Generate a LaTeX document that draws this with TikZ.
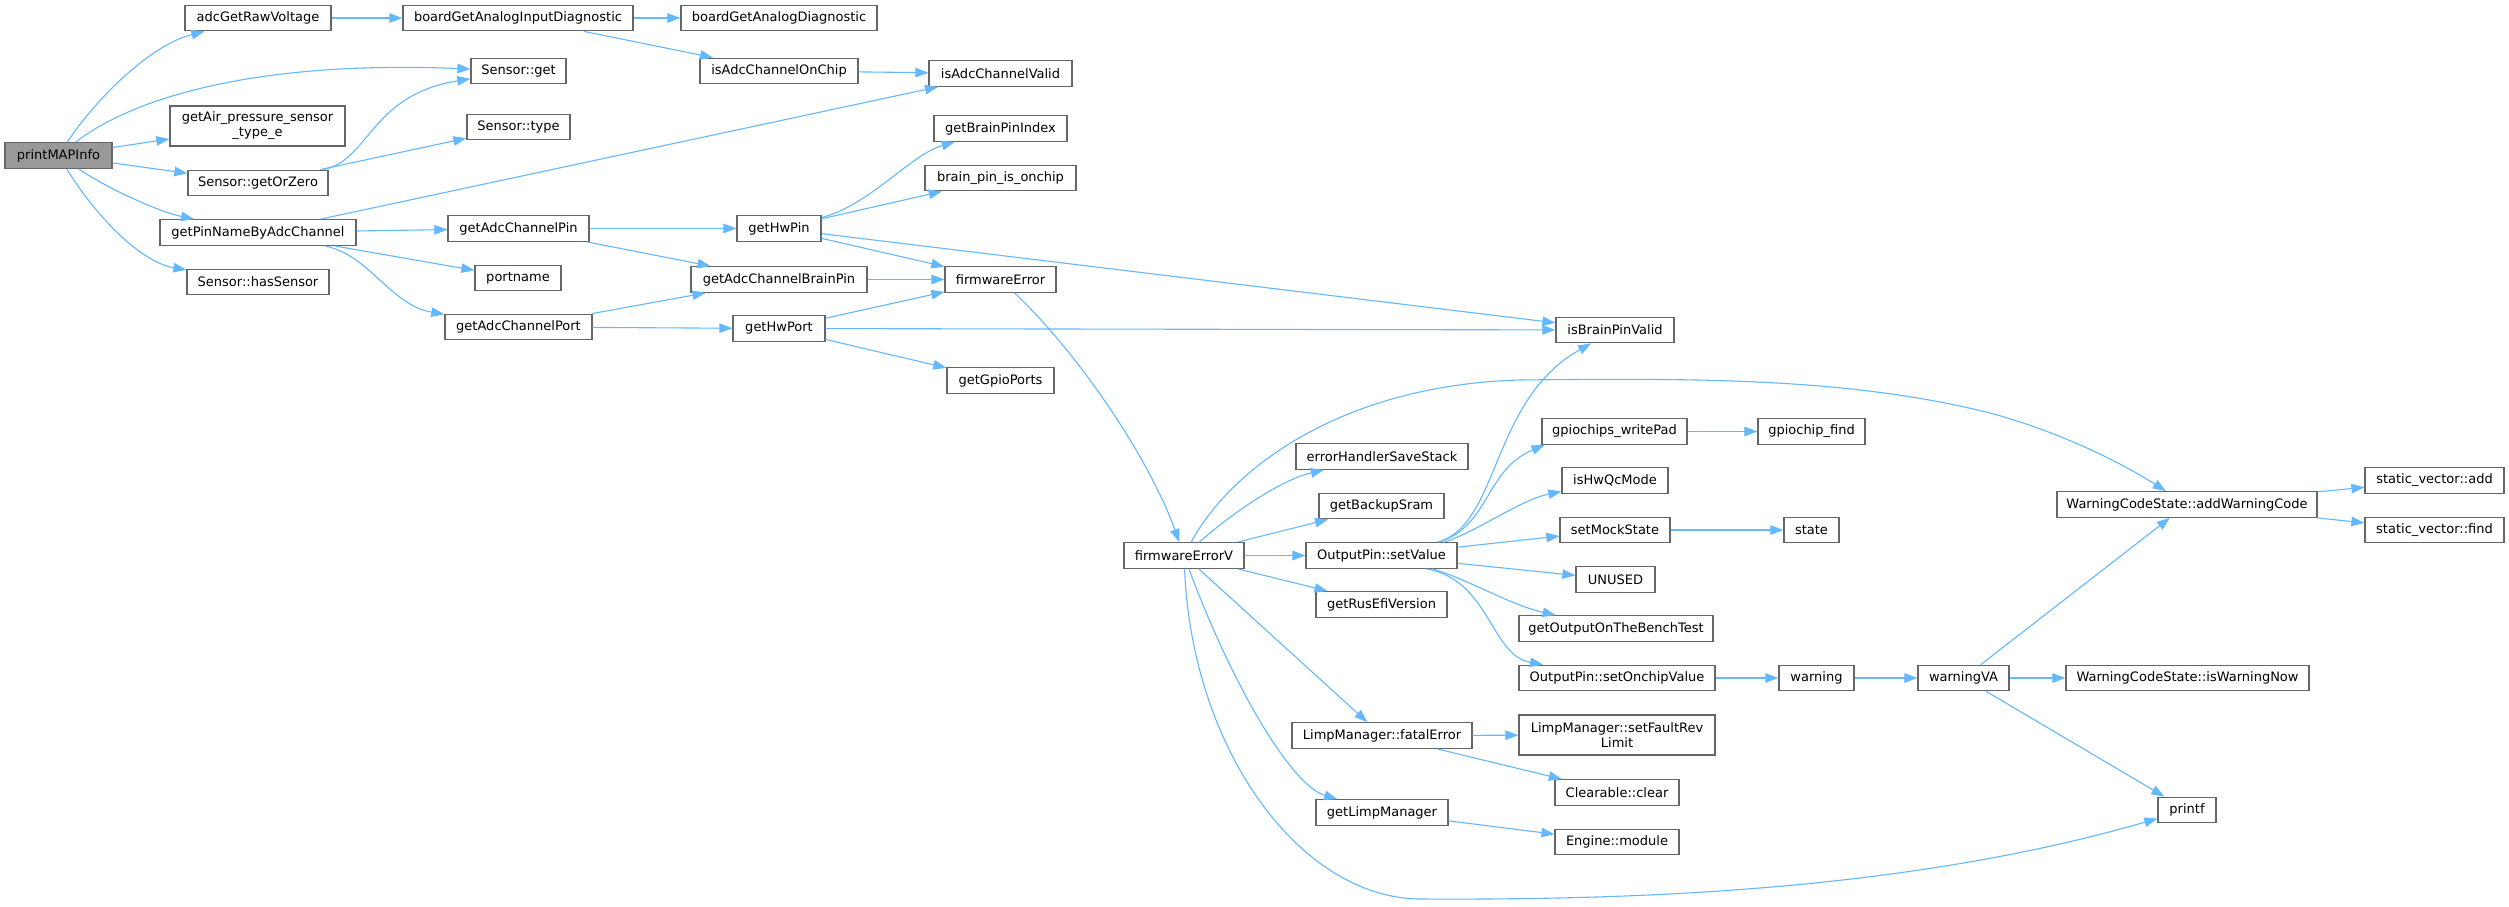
\documentclass[tikz,border=0pt]{standalone}
\usepackage{fontspec}
\setmainfont{DejaVu Sans}
\usetikzlibrary{arrows.meta}
\definecolor{edgec}{HTML}{63B8FF}
\definecolor{boxc}{HTML}{666666}
\definecolor{rootc}{HTML}{999999}
\begin{document}
\begin{tikzpicture}[x=1pt,y=-1pt,
  box/.style={draw=boxc, line width=1.3pt, fill=white, rectangle, inner sep=0pt,
    minimum height=25.5pt, font=\fontsize{13pt}{15pt}\selectfont, text=black, align=center},
  root/.style={box, fill=rootc},
  tall/.style={box, minimum height=40pt},
  call/.style={draw=edgec, line width=1.1pt, -{Triangle[length=13pt,width=9.5pt]}}]
\fill[white] (0,0) rectangle (2509,906);
\useasboundingbox (0,0) rectangle (2509,906);

% nodes
\node[root, minimum width=107pt] (pmi) at (58.5,155.5) {printMAPInfo};
\node[box, minimum width=146pt] (adc) at (258,18) {adcGetRawVoltage};
\node[box, minimum width=230pt] (bgaid) at (518,18) {boardGetAnalogInputDiagnostic};
\node[box, minimum width=196pt] (bgad) at (779,18) {boardGetAnalogDiagnostic};
\node[box, minimum width=95pt] (sget) at (518.5,71) {Sensor::get};
\node[box, minimum width=158pt] (iacoc) at (779,71) {isAdcChannelOnChip};
\node[box, minimum width=143pt] (iacv) at (1000.5,73.5) {isAdcChannelValid};
\node[tall, minimum width=175pt] (gap) at (257.5,126) {getAir\_pressure\_sensor\\\_type\_e};
\node[box, minimum width=103pt] (stype) at (518.5,127) {Sensor::type};
\node[box, minimum width=133pt] (bpi) at (1000.5,128.5) {getBrainPinIndex};
\node[box, minimum width=140pt] (sgoz) at (258,183) {Sensor::getOrZero};
\node[box, minimum width=151pt] (bpoc) at (1000.5,178) {brain\_pin\_is\_onchip};
\node[box, minimum width=196pt] (gpn) at (258,232.5) {getPinNameByAdcChannel};
\node[box, minimum width=141pt] (gacp) at (518.5,228.5) {getAdcChannelPin};
\node[box, minimum width=84pt] (ghp) at (779,228.5) {getHwPin};
\node[box, minimum width=86pt] (pn) at (518,278) {portname};
\node[box, minimum width=176pt] (gacbp) at (779,279.5) {getAdcChannelBrainPin};
\node[box, minimum width=111pt] (fe) at (1000.5,279.5) {firmwareError};
\node[box, minimum width=142pt] (shs) at (258,282) {Sensor::hasSensor};
\node[box, minimum width=147pt] (gacport) at (518.5,327) {getAdcChannelPort};
\node[box, minimum width=92pt] (ghport) at (779,328.5) {getHwPort};
\node[box, minimum width=118pt] (ibp) at (1615,330) {isBrainPinValid};
\node[box, minimum width=107pt] (ggp) at (1000.5,380.5) {getGpioPorts};
\node[box, minimum width=145pt] (gwp) at (1614.5,431.5) {gpiochips\_writePad};
\node[box, minimum width=107pt] (gcf) at (1811.5,431.5) {gpiochip\_find};
\node[box, minimum width=172pt] (ehss) at (1382,456.5) {errorHandlerSaveStack};
\node[box, minimum width=106pt] (hqc) at (1615,480.5) {isHwQcMode};
\node[box, minimum width=139pt] (sva) at (2434.5,480.5) {static\_vector::add};
\node[box, minimum width=125pt] (gbs) at (1381.5,506) {getBackupSram};
\node[box, minimum width=260pt] (awc) at (2187,504.5) {WarningCodeState::addWarningCode};
\node[box, minimum width=110pt] (sms) at (1615,530) {setMockState};
\node[box, minimum width=55pt] (st) at (1811.5,530) {state};
\node[box, minimum width=139pt] (svf) at (2434.5,530) {static\_vector::find};
\node[box, minimum width=120pt] (fev) at (1184,555.5) {firmwareErrorV};
\node[box, minimum width=151pt] (sv) at (1381.5,555.5) {OutputPin::setValue};
\node[box, minimum width=79pt] (un) at (1615.5,579.5) {UNUSED};
\node[box, minimum width=131pt] (grv) at (1381.5,604.5) {getRusEfiVersion};
\node[box, minimum width=194pt] (gob) at (1616,628.5) {getOutputOnTheBenchTest};
\node[box, minimum width=196pt] (sov) at (1617,678) {OutputPin::setOnchipValue};
\node[box, minimum width=75pt] (warn) at (1816.5,678) {warning};
\node[box, minimum width=91pt] (wva) at (1963.5,678) {warningVA};
\node[box, minimum width=243pt] (iwn) at (2187.5,678) {WarningCodeState::isWarningNow};
\node[box, minimum width=180pt] (lfe) at (1382,735.5) {LimpManager::fatalError};
\node[tall, minimum width=196pt] (sfr) at (1617,735) {LimpManager::setFaultRev\\Limit};
\node[box, minimum width=124pt] (cc) at (1617,792.5) {Clearable::clear};
\node[box, minimum width=58pt] (pf) at (2187,810) {printf};
\node[box, minimum width=132pt] (glm) at (1382,812.5) {getLimpManager};
\node[box, minimum width=124pt] (em) at (1617,842) {Engine::module};

% straight connectors
\draw[call] (pmi) -- (gap);
\draw[call] (pmi) -- (sgoz);
\draw[call] (adc) -- (bgaid);
\draw[call] (bgaid) -- (bgad);
\draw[call] (bgaid) -- (iacoc);
\draw[call] (iacoc) -- (iacv);
\draw[call] (sgoz) -- (stype);
\draw[call] (gpn) -- (iacv);
\draw[call] (gpn) -- (gacp);
\draw[call] (gpn) -- (pn);
\draw[call] (gacp) -- (ghp);
\draw[call] (gacp) -- (gacbp);
\draw[call] (gacport) -- (gacbp);
\draw[call] (gacport) -- (ghport);
\draw[call] (ghp) -- (bpoc);
\draw[call] (ghp) -- (fe);
\draw[call] (ghp) -- (ibp);
\draw[call] (gacbp) -- (fe);
\draw[call] (ghport) -- (fe);
\draw[call] (ghport) -- (ibp);
\draw[call] (ghport) -- (ggp);
\draw[call] (fev) -- (gbs);
\draw[call] (fev) -- (sv);
\draw[call] (fev) -- (grv);
\draw[call] (fev) -- (lfe);
\draw[call] (sv) -- (sms);
\draw[call] (sv) -- (un);
\draw[call] (gwp) -- (gcf);
\draw[call] (sms) -- (st);
\draw[call] (sov) -- (warn);
\draw[call] (warn) -- (wva);
\draw[call] (wva) -- (iwn);
\draw[call] (wva) -- (awc);
\draw[call] (wva) -- (pf);
\draw[call] (awc) -- (sva);
\draw[call] (awc) -- (svf);
\draw[call] (lfe) -- (sfr);
\draw[call] (lfe) -- (cc);
\draw[call] (glm) -- (em);

% curved connectors
\draw[call] (pmi) .. controls (95,100) and (150,45) .. (adc);
\draw[call] (pmi) .. controls (130,100) and (250,60) .. (sget);
\draw[call] (pmi) .. controls (110,190) and (160,212) .. (gpn);
\draw[call] (pmi) .. controls (95,215) and (140,262) .. (shs);
\draw[call] (sgoz) .. controls (370,160) and (370,95) .. (sget);
\draw[call] (gpn) .. controls (370,255) and (390,305) .. (gacport);
\draw[call] (ghp) .. controls (870,205) and (910,155) .. (bpi);
\draw[call] (fe) .. controls (1080,355) and (1150,460) .. (fev);
\draw[call] (fev) .. controls (1230,470) and (1340,385) .. (1520,380)
  .. controls (1700,378) and (1850,378) .. (1990,413)
  .. controls (2060,432) and (2120,462) .. (awc);
\draw[call] (fev) .. controls (1230,515) and (1280,480) .. (ehss);
\draw[call] (fev) .. controls (1230,680) and (1290,785) .. (glm);
\draw[call] (fev) .. controls (1192,750) and (1300,898) .. (1420,899)
  .. controls (1620,900) and (1900,893) .. (pf);
\draw[call] ([xshift=56pt]sv.north) .. controls (1500,525) and (1490,400) .. (ibp);
\draw[call] ([xshift=58pt]sv.north) .. controls (1490,525) and (1485,470) .. ([xshift=-70pt]gwp.south);
\draw[call] ([xshift=63pt]sv.north) .. controls (1480,530) and (1520,500) .. (hqc);
\draw[call] ([xshift=51pt]sv.south) .. controls (1470,580) and (1510,605) .. (gob);
\draw[call] ([xshift=45pt]sv.south) .. controls (1490,580) and (1490,655) .. (sov);
\end{tikzpicture}
\end{document}
